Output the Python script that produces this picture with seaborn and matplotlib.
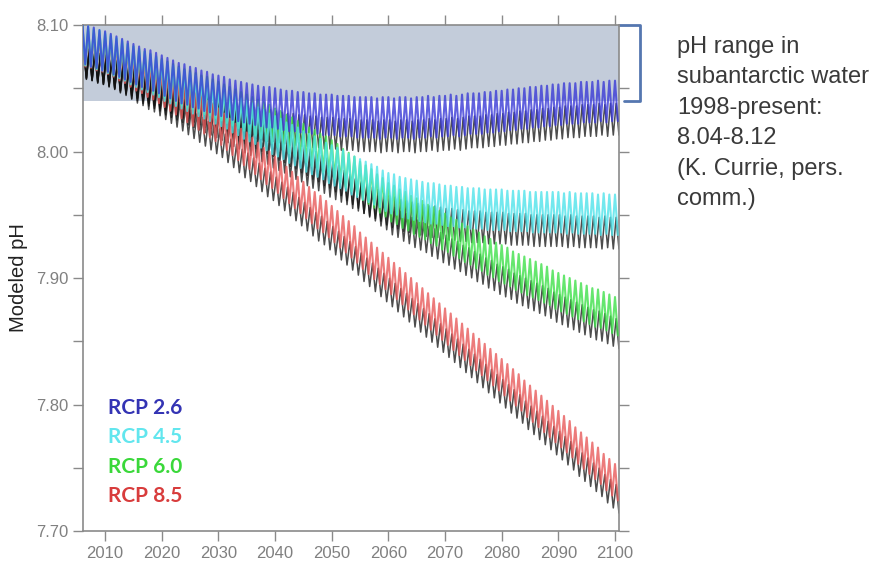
import numpy as np
import pandas as pd
import matplotlib
matplotlib.use("Agg")
import matplotlib.pyplot as plt
import matplotlib.transforms as mtransforms
import seaborn as sns

# ---------- data: annual mean surface pH per scenario ----------
YEARS = list(range(2006, 2101))

RCP26 = [
    8.081, 8.079, 8.078, 8.076, 8.075, 8.073, 8.071, 8.069, 8.067, 8.065,
    8.063, 8.061, 8.060, 8.058, 8.056, 8.054, 8.052, 8.050, 8.049, 8.047,
    8.046, 8.044, 8.043, 8.041, 8.040, 8.039, 8.037, 8.036, 8.035, 8.034,
    8.033, 8.032, 8.031, 8.031, 8.030, 8.029, 8.028, 8.028, 8.027, 8.027,
    8.026, 8.026, 8.025, 8.025, 8.025, 8.024, 8.024, 8.024, 8.023, 8.023,
    8.023, 8.023, 8.022, 8.023, 8.023, 8.022, 8.023, 8.023, 8.022, 8.023,
    8.023, 8.024, 8.023, 8.024, 8.024, 8.025, 8.024, 8.025, 8.026, 8.026,
    8.026, 8.027, 8.027, 8.028, 8.028, 8.029, 8.029, 8.030, 8.030, 8.031,
    8.031, 8.032, 8.032, 8.033, 8.033, 8.034, 8.034, 8.034, 8.035, 8.035,
    8.035, 8.036, 8.035, 8.036, 8.036,
]
RCP45 = [
    8.080, 8.079, 8.077, 8.076, 8.074, 8.072, 8.070, 8.068, 8.065, 8.063,
    8.061, 8.059, 8.057, 8.055, 8.052, 8.050, 8.048, 8.046, 8.044, 8.042,
    8.040, 8.038, 8.036, 8.034, 8.032, 8.030, 8.027, 8.025, 8.022, 8.020,
    8.018, 8.015, 8.013, 8.010, 8.008, 8.006, 8.003, 8.001, 7.999, 7.996,
    7.994, 7.992, 7.990, 7.987, 7.985, 7.983, 7.981, 7.978, 7.976, 7.974,
    7.972, 7.970, 7.968, 7.965, 7.963, 7.962, 7.960, 7.959, 7.958, 7.957,
    7.956, 7.955, 7.955, 7.954, 7.953, 7.953, 7.952, 7.952, 7.951, 7.951,
    7.951, 7.950, 7.950, 7.950, 7.950, 7.949, 7.949, 7.949, 7.949, 7.948,
    7.948, 7.948, 7.948, 7.948, 7.948, 7.947, 7.948, 7.947, 7.947, 7.947,
    7.947, 7.946, 7.947, 7.946, 7.946,
]
RCP60 = [
    8.080, 8.079, 8.077, 8.076, 8.074, 8.072, 8.070, 8.068, 8.066, 8.064,
    8.062, 8.060, 8.058, 8.056, 8.054, 8.052, 8.050, 8.048, 8.046, 8.045,
    8.043, 8.041, 8.040, 8.038, 8.036, 8.034, 8.032, 8.030, 8.028, 8.026,
    8.024, 8.022, 8.020, 8.018, 8.015, 8.013, 8.010, 8.008, 8.005, 8.003,
    8.000, 7.998, 7.995, 7.993, 7.990, 7.987, 7.983, 7.980, 7.977, 7.973,
    7.970, 7.967, 7.963, 7.960, 7.956, 7.954, 7.951, 7.949, 7.946, 7.944,
    7.942, 7.939, 7.937, 7.934, 7.932, 7.929, 7.927, 7.924, 7.922, 7.919,
    7.917, 7.914, 7.912, 7.909, 7.907, 7.905, 7.902, 7.900, 7.898, 7.896,
    7.894, 7.892, 7.890, 7.887, 7.885, 7.883, 7.881, 7.879, 7.877, 7.875,
    7.873, 7.872, 7.870, 7.868, 7.866,
]
RCP85 = [
    8.078, 8.077, 8.075, 8.074, 8.072, 8.070, 8.067, 8.065, 8.062, 8.059,
    8.057, 8.054, 8.052, 8.049, 8.046, 8.043, 8.040, 8.037, 8.034, 8.031,
    8.028, 8.025, 8.022, 8.019, 8.016, 8.012, 8.008, 8.004, 8.000, 7.997,
    7.993, 7.989, 7.985, 7.982, 7.978, 7.974, 7.970, 7.966, 7.962, 7.958,
    7.954, 7.950, 7.947, 7.943, 7.939, 7.935, 7.931, 7.927, 7.923, 7.918,
    7.914, 7.910, 7.906, 7.902, 7.898, 7.894, 7.890, 7.886, 7.882, 7.878,
    7.874, 7.870, 7.866, 7.862, 7.858, 7.854, 7.850, 7.846, 7.842, 7.838,
    7.834, 7.830, 7.826, 7.822, 7.818, 7.814, 7.810, 7.806, 7.801, 7.797,
    7.793, 7.789, 7.785, 7.781, 7.777, 7.773, 7.769, 7.764, 7.760, 7.756,
    7.752, 7.748, 7.743, 7.739, 7.735,
]

SCENARIOS = ["RCP 2.6", "RCP 4.5", "RCP 6.0", "RCP 8.5"]
SEASON_AMP = [0.020, 0.020, 0.019, 0.018]   # half of the seasonal pH swing
OBS_LOW, OBS_HIGH = 8.04, 8.10              # observed subantarctic range (shaded)

COLORS = {"RCP 2.6": "#3a3ad6", "RCP 4.5": "#4fe3ea", "RCP 6.0": "#3ee04a", "RCP 8.5": "#e85a5a"}
LABEL_COLORS = {"RCP 2.6": "#3434b4", "RCP 4.5": "#62e6ee", "RCP 6.0": "#3ad83a", "RCP 8.5": "#d83c3c"}

# ---------- build seasonal zig-zag frames ----------
series = dict(zip(SCENARIOS, [RCP26, RCP45, RCP60, RCP85]))
rows, black_rows = [], []
for name, amp in zip(SCENARIOS, SEASON_AMP):
    for yr, m in zip(YEARS, series[name]):
        rows.append((name, yr, m + amp))
        rows.append((name, yr + 0.5, m - 0.6 * amp))
        black_rows.append((name, yr + 0.2, m + 0.1 * amp))
        black_rows.append((name, yr + 0.7, m - 1.15 * amp))
df = pd.DataFrame(rows, columns=["scenario", "t", "pH"])
dfk = pd.DataFrame(black_rows, columns=["scenario", "t", "pH"])

# ---------- plot ----------
sns.set_style("ticks")
plt.rcParams["font.family"] = ["Liberation Sans", "DejaVu Sans"]

fig = plt.figure(figsize=(8.85, 5.68), dpi=100)
ax = fig.add_axes([0.0938, 0.065, 0.6056, 0.891])

ax.axhspan(OBS_LOW, OBS_HIGH, color="#c3ccda", zorder=0, lw=0)

order = SCENARIOS[::-1]  # red first, blue on top
for name in order:
    sns.lineplot(data=dfk[dfk.scenario == name], x="t", y="pH", color="#111111",
                 lw=1.1, alpha=0.75, sort=False, estimator=None, ax=ax, zorder=2)
    sns.lineplot(data=df[df.scenario == name], x="t", y="pH", color=COLORS[name],
                 lw=1.5, alpha=0.8, sort=False, estimator=None, ax=ax, zorder=3)

ax.set_xlim(2006.1, 2100.7)
ax.set_ylim(7.70, 8.10)
ax.set_xticks(range(2010, 2101, 10))
ax.set_yticks([7.70, 7.80, 7.90, 8.00, 8.10])
ax.set_yticks([7.75, 7.85, 7.95, 8.05], minor=True)
ax.set_yticklabels([f"{v:.2f}" for v in [7.70, 7.80, 7.90, 8.00, 8.10]])
ax.tick_params(axis="both", which="both", direction="out", length=7, width=1,
               color="#8a8a8a", labelcolor="#808080", labelsize=12,
               top=True, right=True)
for s in ax.spines.values():
    s.set_color("#8a8a8a")
    s.set_linewidth(1.2)
ax.set_xlabel("")
ax.set_ylabel("Modeled pH", fontsize=14.5, color="#222222", labelpad=6)

# scenario labels
for i, name in enumerate(SCENARIOS):
    ax.text(0.047, 0.243 - i * 0.058, name, transform=ax.transAxes, color=LABEL_COLORS[name],
            fontsize=15, fontweight="bold", family=["Lato", "DejaVu Sans"], va="center")

# bracket for observed range, just right of the axes
trans = mtransforms.blended_transform_factory(ax.transAxes, ax.transData)
ax.plot([1.0, 1.04, 1.04, 1.01], [OBS_HIGH, OBS_HIGH, OBS_LOW, OBS_LOW], color="#5577b0",
        lw=2, transform=trans, clip_on=False)

fig.text(0.765, 0.937, "pH range in\nsubantarctic water\n1998-present:\n8.04-8.12\n(K. Currie, pers.\ncomm.)",
         fontsize=17, color="#3a3a3a", va="top", ha="left", linespacing=1.5)

fig.savefig("out.png", dpi=100)
